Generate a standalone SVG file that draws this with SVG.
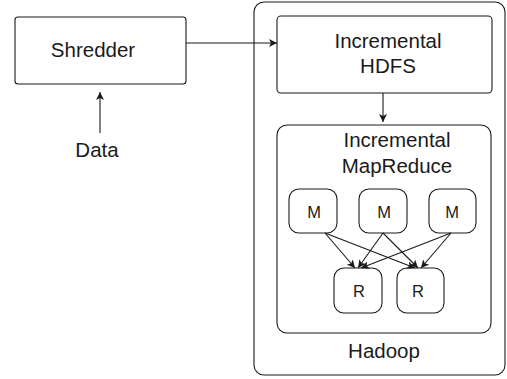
<svg xmlns="http://www.w3.org/2000/svg" width="507" height="379" viewBox="0 0 507 379">
<defs>
<marker id="ah" viewBox="0 0 10 10" refX="10" refY="5" markerWidth="8" markerHeight="8" markerUnits="userSpaceOnUse" orient="auto">
<path d="M0,0 L10,5 L0,10 L2.5,5 Z" fill="#1a1a1a"/>
</marker>
<style>
.box{fill:#fff;stroke:#1a1a1a;stroke-width:1.1}
.t{font-family:"Liberation Sans",Arial,sans-serif;font-size:20.5px;fill:#1a1a1a;text-anchor:middle}
.s{font-family:"Liberation Sans",Arial,sans-serif;font-size:16.5px;fill:#1a1a1a;text-anchor:middle}
.c{stroke:#1a1a1a;stroke-width:1.1;fill:none;marker-end:url(#ah)}
</style>
</defs>
<rect width="507" height="379" fill="#fff"/>
<g id="hadoop">
<rect class="box" x="254" y="2" width="251" height="373" rx="10"/>
<text class="t" x="384" y="358">Hadoop</text>
</g>
<g id="shredder">
<rect class="box" x="15" y="17" width="171" height="67" rx="3"/>
<text class="t" x="93" y="57">Shredder</text>
</g>
<g id="data">
<text class="t" x="97" y="157">Data</text>
</g>
<g id="hdfs">
<rect class="box" x="277" y="16" width="215" height="77" rx="4"/>
<text class="t" x="388" y="48">Incremental</text>
<text class="t" x="388" y="73">HDFS</text>
</g>
<g id="mapreduce">
<rect class="box" x="277" y="125" width="214" height="208" rx="10"/>
<text class="t" x="397" y="147">Incremental</text>
<text class="t" x="397" y="173">MapReduce</text>
</g>
<g id="m1"><rect class="box" x="289" y="189" width="48" height="44" rx="10"/><text class="s" x="314" y="218">M</text></g>
<g id="m2"><rect class="box" x="359" y="189" width="48" height="44" rx="10"/><text class="s" x="384" y="218">M</text></g>
<g id="m3"><rect class="box" x="429" y="189" width="47" height="44" rx="10"/><text class="s" x="452" y="218">M</text></g>
<g id="r1"><rect class="box" x="334" y="268" width="48" height="45" rx="10"/><text class="s" x="359" y="297">R</text></g>
<g id="r2"><rect class="box" x="397" y="268" width="47" height="45" rx="10"/><text class="s" x="418" y="297">R</text></g>
<g id="connectors">
<line class="c" x1="186" y1="43" x2="277" y2="43"/>
<line class="c" x1="100" y1="133" x2="100" y2="92"/>
<line class="c" x1="383" y1="93" x2="383" y2="122"/>
<line class="c" x1="325" y1="233" x2="355" y2="268"/>
<line class="c" x1="383" y1="233" x2="358" y2="268"/>
<line class="c" x1="451" y1="233" x2="361" y2="268"/>
<line class="c" x1="325" y1="233" x2="415" y2="268"/>
<line class="c" x1="383" y1="233" x2="418" y2="268"/>
<line class="c" x1="451" y1="233" x2="421" y2="268"/>
</g>
</svg>
